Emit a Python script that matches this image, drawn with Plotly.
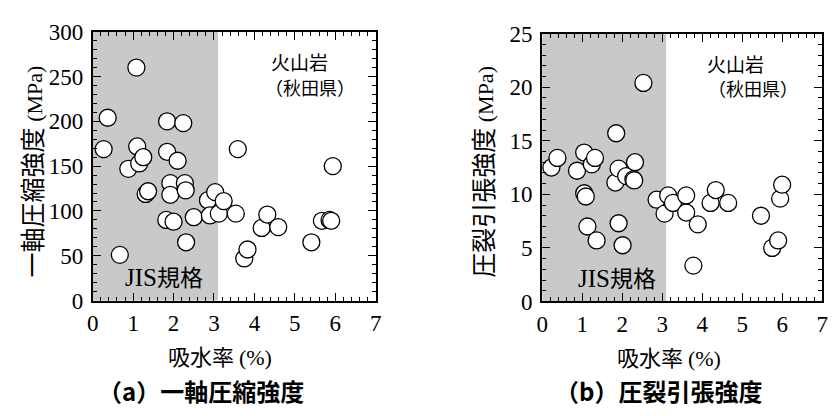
import plotly.graph_objects as go
from plotly.subplots import make_subplots

# ---- data ----
ucs_absorption = [0.27, 0.37, 0.67, 0.88, 1.08, 1.10, 1.15, 1.25, 1.31, 1.37, 1.84, 1.84, 1.92, 1.92,
                  1.82, 2.00, 2.10, 2.24, 2.28, 2.30, 2.31, 2.50, 2.85, 2.90, 3.03, 3.12, 3.24, 3.54,
                  3.59, 3.75, 3.83, 4.18, 4.32, 4.59, 5.41, 5.67, 5.86, 5.90, 5.94]
ucs_strength = [169, 204, 51, 147, 260, 172, 153, 160, 119, 122, 200, 166, 131, 118,
                90, 88, 156, 198, 131, 123, 65, 93, 112, 95, 121, 97, 111, 97,
                169, 47, 57, 81, 96, 82, 65, 89, 90, 89, 150]

bt_absorption = [0.23, 0.38, 0.87, 1.05, 1.05, 1.09, 1.13, 1.24, 1.32, 1.36, 1.83, 1.85, 1.91, 1.91,
                 2.01, 2.10, 2.28, 2.30, 2.32, 2.53, 2.86, 3.06, 3.15, 3.27, 3.60, 3.60, 3.89, 4.21,
                 4.34, 4.65, 5.47, 5.75, 5.90, 5.95, 6.00, 3.78]
bt_strength = [12.5, 13.4, 12.2, 13.9, 10.1, 9.8, 7.0, 12.8, 13.4, 5.7, 11.1, 15.7, 12.4, 7.3,
               5.25, 11.7, 11.4, 11.3, 13.0, 20.4, 9.5, 8.2, 9.9, 9.2, 9.9, 8.3, 7.2, 9.2,
               10.4, 9.2, 8.0, 5.0, 5.7, 9.6, 10.9, 3.35]

jis_limit = 3.1          # JIS standard region (absorption <= 3.1 %)
x_range = [0, 7]
ucs_range = [0, 300]
bt_range = [0, 25]

x_title = "吸水率"
ucs_title = "一軸圧縮強度"
bt_title = "圧裂引張強度"
cap_a = "（a）一軸圧縮強度"
cap_b = "（b）圧裂引張強度"
region_label = "規格"
region_prefix = "JIS"
rock_label1 = "火山岩"
rock_label2 = "（秋田県）"

SERIF = "Times New Roman, Liberation Serif, DejaVu Serif, serif"
CJK = "Noto Sans CJK JP"

fig = make_subplots(rows=1, cols=2)

marker = dict(size=17, color="white", line=dict(color="black", width=1.3))
fig.add_trace(go.Scatter(x=ucs_absorption, y=ucs_strength, mode="markers", marker=marker,
                         showlegend=False, cliponaxis=False), row=1, col=1)
fig.add_trace(go.Scatter(x=bt_absorption, y=bt_strength, mode="markers", marker=marker,
                         showlegend=False, cliponaxis=False), row=1, col=2)

# shaded JIS regions
for xr, yr in (("x", "y domain"), ("x2", "y2 domain")):
    fig.add_shape(type="rect", xref=xr, yref=yr, x0=0, x1=jis_limit, y0=0, y1=1,
                  fillcolor="#c9c9c9", line=dict(width=0), layer="below")

axis_common = dict(showgrid=False, zeroline=False, showline=True, linecolor="black", linewidth=2,
                   mirror="allticks", ticks="inside", ticklen=8, tickwidth=1.3, tickcolor="black",
                   tickfont=dict(family=SERIF, size=23, color="black"))

fig.update_xaxes(**axis_common, range=x_range, dtick=1, tick0=0, ticklabelstandoff=1,
                 minor=dict(dtick=0.2, ticks="inside", ticklen=4, tickcolor="black", tickwidth=1))
fig.update_yaxes(**axis_common, ticklabelstandoff=3)
fig.update_yaxes(range=ucs_range, dtick=50, tick0=0,
                 minor=dict(dtick=10, ticks="inside", ticklen=4, tickcolor="black", tickwidth=1),
                 row=1, col=1)
fig.update_yaxes(range=bt_range, dtick=5, tick0=0,
                 minor=dict(dtick=1, ticks="inside", ticklen=4, tickcolor="black", tickwidth=1),
                 row=1, col=2)

W, H = 838, 416
fig.update_layout(
    width=W, height=H, margin=dict(l=0, r=0, t=0, b=0),
    paper_bgcolor="white", plot_bgcolor="white",
    xaxis=dict(domain=[88 / W, 375 / W]),
    xaxis2=dict(domain=[544 / W, 828 / W]),
    yaxis=dict(domain=[1 - 307 / H, 1 - 21 / H]),
    yaxis2=dict(domain=[1 - 308 / H, 1 - 23 / H]),
)

def px_ann(text, x, y, size, family=CJK, angle=0, bold=False):
    fig.add_annotation(text=f"<b>{text}</b>" if bold else text, xref="paper", yref="paper",
                       x=x / W, y=1 - y / H, xanchor="center", yanchor="middle",
                       showarrow=False, textangle=angle, borderpad=0,
                       font=dict(family=family, size=size, color="black"))

serif_span = '<span style="font-family:Times New Roman, Liberation Serif, DejaVu Serif, serif;font-size:22px">{}</span>'

# axis titles
px_ann(x_title + " " + serif_span.format("(%)"), 217, 365, 22)
px_ann(x_title + " " + serif_span.format("(%)"), 673, 366, 22)
px_ann(ucs_title + " " + serif_span.format("(MPa)"), 25, 170, 25, angle=-90)
px_ann(bt_title + " " + serif_span.format("(MPa)"), 483, 170, 25, angle=-90)

# captions
px_ann(cap_a, 198, 403, 24, bold=True)
px_ann(cap_b, 662, 403, 24, bold=True)

# in-plot labels
jis_text = serif_span.format(region_prefix).replace("22px", "25px") + region_label
for xr, yr, x1, y1, x2, y2, jx, jy in (("x", "y", 5.12, 267, 5.37, 238, 1.76, 27),
                                       ("x2", "y2", 4.83, 22.2, 5.28, 19.9, 1.87, 2.3)):
    fig.add_annotation(text=rock_label1, xref=xr, yref=yr, x=x1, y=y1, showarrow=False,
                       font=dict(family=CJK, size=19, color="black"))
    fig.add_annotation(text=rock_label2, xref=xr, yref=yr, x=x2, y=y2, showarrow=False,
                       font=dict(family=CJK, size=18, color="black"))
    fig.add_annotation(text=jis_text, xref=xr, yref=yr, x=jx, y=jy, showarrow=False,
                       font=dict(family=CJK, size=23, color="black"))

fig.write_html("out.html")
